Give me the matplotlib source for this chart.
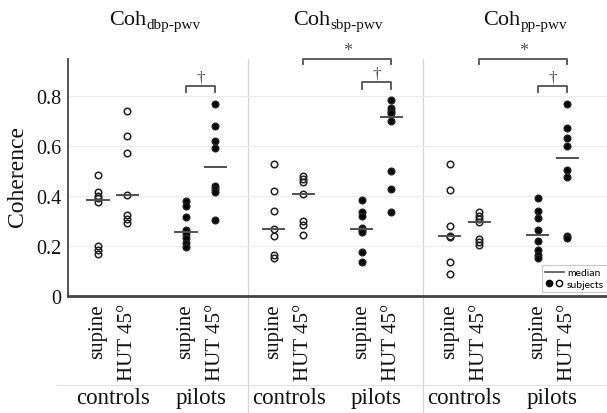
import numpy as np
import matplotlib
matplotlib.use("Agg")
import matplotlib.pyplot as plt
import matplotlib.transforms as mtransforms
from matplotlib.lines import Line2D
from matplotlib.legend_handler import HandlerTuple

plt.rcParams["font.family"] = ["Liberation Serif", "DejaVu Serif"]

# data
panels = ["dbp-pwv", "sbp-pwv", "pp-pwv"]
conditions = ["supine", "HUT 45°"]
groups = ["controls", "pilots"]

ctrl_supine = [
    [0.484, 0.417, 0.402, 0.392, 0.376, 0.200, 0.183, 0.168],
    [0.528, 0.421, 0.341, 0.268, 0.239, 0.164, 0.151],
    [0.528, 0.424, 0.281, 0.240, 0.235, 0.135, 0.090],
]
ctrl_hut = [
    [0.741, 0.641, 0.572, 0.405, 0.324, 0.308, 0.292],
    [0.480, 0.467, 0.455, 0.410, 0.299, 0.286, 0.243],
    [0.336, 0.322, 0.310, 0.298, 0.228, 0.216, 0.205],
]
pilot_supine = [
    [0.379, 0.361, 0.317, 0.265, 0.248, 0.232, 0.212, 0.195],
    [0.383, 0.335, 0.322, 0.272, 0.266, 0.255, 0.175, 0.135],
    [0.393, 0.340, 0.313, 0.266, 0.221, 0.185, 0.166, 0.152],
]
pilot_hut = [
    [0.768, 0.681, 0.622, 0.592, 0.440, 0.430, 0.418, 0.304],
    [0.784, 0.752, 0.740, 0.732, 0.700, 0.501, 0.427, 0.335],
    [0.770, 0.675, 0.635, 0.601, 0.506, 0.479, 0.240, 0.234],
]

# (panel, from column, to column, symbol); columns: 0 ctrl supine,
# 1 ctrl HUT, 2 pilot supine, 3 pilot HUT
significance = [
    (0, 2, 3, "†"),
    (1, 1, 3, "*"),
    (1, 2, 3, "†"),
    (2, 1, 3, "*"),
    (2, 2, 3, "†"),
]

GREY = "#505050"
TXT = "#111111"

fig = plt.figure(figsize=(6.07, 4.14), dpi=100)
ax = fig.add_axes([68 / 607, 117 / 414, 539 / 607, 237 / 414])
ax.set_xlim(-0.024, 18.36)
ax.set_ylim(0, 0.95)
trans = mtransforms.blended_transform_factory(ax.transData, ax.transAxes)

col_off = [1, 2, 4, 5]
panel_w = 6
tick_pos = []
tick_lab = []

for i in range(len(panels)):
    base = i * panel_w
    series = [ctrl_supine[i], ctrl_hut[i], pilot_supine[i], pilot_hut[i]]
    for j, vals in enumerate(series):
        x = base + col_off[j]
        filled = j >= 2
        ax.plot([x] * len(vals), vals, ls="", marker="o", ms=4.7,
                mfc="black" if filled else "none", mec="#222222",
                mew=1.1, clip_on=False, zorder=3)
        m = np.median(vals)
        ax.plot([x - 0.36, x + 0.36], [m, m], color=GREY, lw=1.4, zorder=4)
        tick_pos.append(x)
        tick_lab.append(conditions[j % 2])
    # group names under the tick labels
    for g, name in enumerate(groups):
        ax.text(base + col_off[2 * g] + 0.5, -0.43, name, transform=trans,
                ha="center", va="center", fontsize=16.5, color=TXT)

# panel titles
title_x = [1.39, 7.65, 14.13]
for i, sub in enumerate(panels):
    t = ax.text(title_x[i], 1.148, "Coh", transform=trans, ha="left",
                va="baseline", fontsize=16, color=TXT)
    ax.annotate(sub, xy=(1, 0), xycoords=t, xytext=(0.3, -1.8),
                textcoords="offset points", ha="left", va="bottom",
                fontsize=11, color=TXT)

# significance brackets
for p, c0, c1, sym in significance:
    x0 = p * panel_w + col_off[c0]
    x1 = p * panel_w + col_off[c1]
    if sym == "*":
        top, leg = 0.948, 0.928
    elif p == 1:
        top, leg = 0.856, 0.83
    else:
        top, leg = 0.84, 0.816
    ax.plot([x0, x0, x1, x1], [leg, top, top, leg], color=GREY, lw=1.3,
            clip_on=False, zorder=4)
    ax.text((x0 + x1) / 2, top + 0.004, sym, ha="center", va="bottom",
            fontsize=13 if sym == "*" else 12.5, color=GREY)

# panel dividers and the line above group names
for xd in [6.1, 12.1]:
    ax.plot([xd, xd], [1, -0.5], transform=trans, color="#d4d4d4", lw=0.9,
            clip_on=False, zorder=0)
ax.plot([-0.02, 1], [-0.376, -0.376], transform=ax.transAxes, color="#e2e2e2",
        lw=0.8, clip_on=False, zorder=0)

ax.set_xticks(tick_pos)
ax.set_xticklabels(tick_lab, rotation=90, va="top", ha="center",
                   fontsize=15, color=TXT)
ax.set_yticks([0, 0.2, 0.4, 0.6, 0.8])
ax.set_yticklabels(["0", "0.2", "0.4", "0.6", "0.8"], fontsize=14.5, color=TXT)
ax.tick_params(axis="both", length=0)
ax.tick_params(axis="y", pad=5)
ax.tick_params(axis="x", pad=5)

ax.yaxis.grid(True, color="#ececec", lw=0.8)
ax.set_axisbelow(True)
for s in ["top", "right"]:
    ax.spines[s].set_visible(False)
ax.spines["left"].set_color("#444444")
ax.spines["left"].set_linewidth(1.3)
ax.spines["bottom"].set_color("#444444")
ax.spines["bottom"].set_linewidth(2)

fig.text(18 / 607, 1 - 177 / 414, "Coherence", rotation=90, ha="center",
         va="center", fontsize=17, color=TXT)

h_med = Line2D([], [], color=GREY, lw=1.2)
h_fill = Line2D([], [], ls="", marker="o", ms=4.5, mfc="black", mec="black")
h_open = Line2D([], [], ls="", marker="o", ms=4.5, mfc="none", mec="black")
leg = ax.legend([h_med, (h_fill, h_open)], ["median", "subjects"],
                handler_map={tuple: HandlerTuple(ndivide=None, pad=0.1)},
                loc="lower right", bbox_to_anchor=(1.0, 0.017),
                borderaxespad=0, fancybox=False, edgecolor="#c8c8c8",
                framealpha=1, prop={"family": "Lato", "size": 7.5},
                handlelength=1.8, handletextpad=0.3, borderpad=0.3,
                labelspacing=0.2)
leg.get_frame().set_linewidth(0.8)

fig.savefig("out.png", dpi=100)
